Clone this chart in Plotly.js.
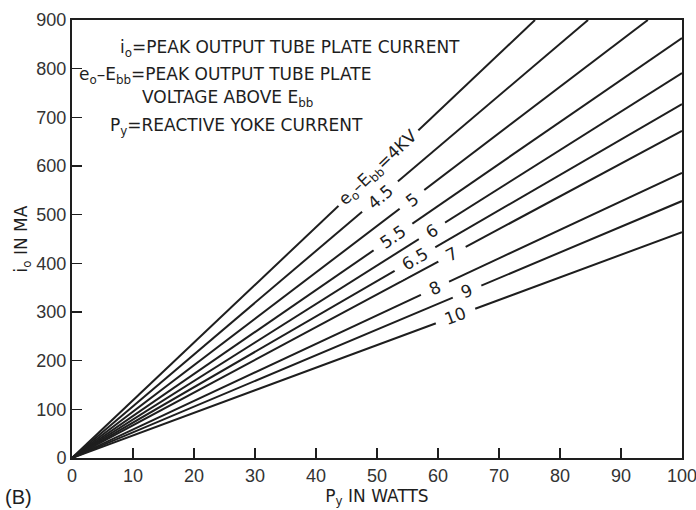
<!DOCTYPE html>
<html>
<head>
<meta charset="utf-8">
<script src="https://cdn.plot.ly/plotly-3.0.1.min.js"></script>
<style>html,body{margin:0;padding:0;background:#fff;}#chart{width:696px;height:510px;}</style>
</head>
<body>
<div id="chart"></div>
<script>
// Plate-voltage curves (kV), each a straight line from the origin to where it leaves the frame
const voltages = [4, 4.5, 5, 5.5, 6, 6.5, 7, 8, 9, 10];
const endX = [75.9, 84.6, 94.4, 100, 100, 100, 100, 100, 100, 100];   // P_y, watts
const endY = [900, 900, 900, 863, 791, 727, 672, 586, 528, 464];      // i_o, mA
const labelText = ['e<sub>o</sub>\u2013E<sub>bb</sub>=4KV', '4.5', '5', '5.5', '6', '6.5', '7', '8', '9', '10'];
const labelX = [50.2, 50.5, 55.7, 52.6, 59.0, 56.2, 62.3, 59.5, 64.8, 62.8];
const xTicks = [0, 10, 20, 30, 40, 50, 60, 70, 80, 90, 100];
const yTicks = [0, 100, 200, 300, 400, 500, 600, 700, 800, 900];

const M = {l: 72, r: 14, t: 20, b: 52};
const W = 696, H = 510;
const pw = W - M.l - M.r, ph = H - M.t - M.b;
const ink = '#1e1e1e';
const txtFont = 'DejaVu Sans, sans-serif';

const traces = voltages.map((v, i) => ({
  type: 'scatter', mode: 'lines',
  x: [0, endX[i]], y: [0, endY[i]],
  line: {color: ink, width: 2},
  hoverinfo: 'skip', showlegend: false, name: v + ' kV'
}));

const annotations = voltages.map((v, i) => {
  const slope = endY[i] / endX[i];
  const ang = Math.atan((slope / 900 * ph) / (1 / 100 * pw)) * 180 / Math.PI;
  return {
    x: labelX[i], y: labelX[i] * slope, xref: 'x', yref: 'y',
    text: i === 0 ? '\u2009' + labelText[i] + '\u2009' : '\u2002' + labelText[i] + '\u2002',
    showarrow: false, textangle: -ang,
    bgcolor: '#ffffff', borderpad: 1,
    font: {family: txtFont, size: 17, color: ink}
  };
});

const px = p => (p - M.l) / pw;
const py = p => (H - M.b - p) / ph;
const note = (text, xp, yp) => ({
  xref: 'paper', yref: 'paper', x: px(xp), y: py(yp), xanchor: 'left', yanchor: 'middle',
  text: text, showarrow: false, font: {family: txtFont, size: 17, color: ink}
});
annotations.push(
  note('i<sub>o</sub>=PEAK OUTPUT TUBE PLATE CURRENT', 118, 48),
  note('e<sub>o</sub>\u2013E<sub>bb</sub>=PEAK OUTPUT TUBE PLATE', 77, 75),
  note('VOLTAGE ABOVE E<sub>bb</sub>', 140, 98),
  note('P<sub>y</sub>=REACTIVE YOKE CURRENT', 108, 126),
  {xref: 'paper', yref: 'paper', x: px(3), y: py(497), xanchor: 'left', yanchor: 'middle',
   text: '(B)', showarrow: false, font: {family: 'Liberation Sans, sans-serif', size: 20, color: ink}}
);

const axisCommon = {
  showgrid: false, zeroline: false, showline: true, linecolor: ink, linewidth: 2,
  mirror: true, ticks: 'inside', ticklen: 10, tickwidth: 1.5, tickcolor: ink,
  ticklabeloverflow: 'allow',
  tickfont: {family: 'Liberation Sans, sans-serif', size: 18, color: '#333'}
};

const layout = {
  width: W, height: H, margin: M,
  paper_bgcolor: '#ffffff', plot_bgcolor: '#ffffff',
  xaxis: Object.assign({}, axisCommon, {
    range: [0, 100], tickvals: xTicks, ticktext: xTicks.map(String),
    title: {text: 'P<sub>y</sub> IN WATTS', standoff: 2,
      font: {family: txtFont, size: 17, color: ink}}
  }),
  yaxis: Object.assign({}, axisCommon, {
    range: [0, 900], tickvals: yTicks, ticktext: yTicks.map(String),
    title: {text: 'i<sub>o</sub> IN MA', standoff: 4,
      font: {family: txtFont, size: 17, color: ink}}
  }),
  annotations: annotations,
  showlegend: false
};

Plotly.newPlot('chart', traces, layout, {displayModeBar: false, staticPlot: true});
</script>
</body>
</html>
